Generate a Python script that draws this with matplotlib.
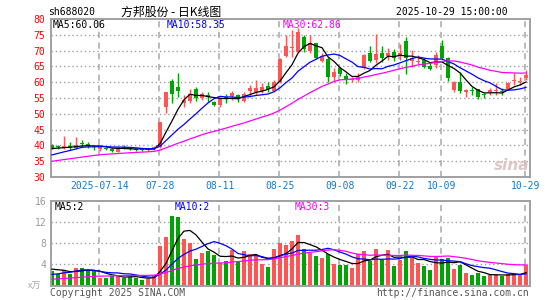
import matplotlib
matplotlib.use('Agg')
import matplotlib.pyplot as plt
import numpy as np
import pandas as pd

# ---------------- data ----------------
dates = ['2025-07-02','2025-07-03','2025-07-04','2025-07-07','2025-07-08','2025-07-09','2025-07-10','2025-07-11',
         '2025-07-14','2025-07-15','2025-07-16','2025-07-17','2025-07-18','2025-07-21','2025-07-22','2025-07-23',
         '2025-07-24','2025-07-25','2025-07-28','2025-07-29','2025-07-30','2025-07-31','2025-08-01','2025-08-04',
         '2025-08-05','2025-08-06','2025-08-07','2025-08-08','2025-08-11','2025-08-12','2025-08-13','2025-08-14',
         '2025-08-15','2025-08-18','2025-08-19','2025-08-20','2025-08-21','2025-08-22','2025-08-25','2025-08-26',
         '2025-08-27','2025-08-28','2025-08-29','2025-09-01','2025-09-02','2025-09-03','2025-09-04','2025-09-05',
         '2025-09-08','2025-09-09','2025-09-10','2025-09-11','2025-09-12','2025-09-15','2025-09-16','2025-09-17',
         '2025-09-18','2025-09-19','2025-09-22','2025-09-23','2025-09-24','2025-09-25','2025-09-26','2025-09-29',
         '2025-09-30','2025-10-09','2025-10-10','2025-10-13','2025-10-14','2025-10-15','2025-10-16','2025-10-17',
         '2025-10-20','2025-10-21','2025-10-22','2025-10-23','2025-10-24','2025-10-27','2025-10-28','2025-10-29']

open_ = [40.2,39.7,39.4,39.9,39.3,40.9,40.6,39.7,38.9,39.2,38.8,38.0,39.6,39.3,38.9,38.8,38.5,38.8,39.5,52.2,
         60.4,58.5,53.4,54.0,58.0,55.0,55.8,53.7,52.9,55.4,55.6,56.0,54.0,57.3,57.0,57.3,58.8,57.3,60.2,68.3,
         70.7,69.4,74.2,70.0,72.3,66.8,67.2,61.5,64.6,62.0,60.6,60.8,64.5,69.1,67.0,69.1,68.3,69.4,68.3,73.1,
         66.6,66.4,67.0,65.1,65.3,71.4,67.7,57.5,60.1,57.0,57.5,57.7,56.2,56.8,57.2,57.2,57.7,60.3,60.1,61.2]
high = [40.6,40.2,42.9,41.0,42.8,41.7,41.0,40.0,39.8,39.5,39.1,39.5,40.2,39.6,39.2,39.0,39.1,39.8,47.4,57.0,
        61.0,62.9,56.0,58.0,58.4,56.8,57.0,54.2,55.4,56.4,57.3,56.3,57.0,59.1,60.7,59.6,60.0,60.7,67.5,75.0,
        76.5,77.0,75.0,75.0,72.5,69.1,68.1,64.6,64.9,62.8,61.8,62.8,69.0,71.5,75.3,71.5,70.7,70.6,72.0,74.4,
        70.3,68.6,67.8,66.0,69.6,73.3,68.0,60.5,63.3,58.0,58.5,58.0,56.7,58.2,59.8,58.2,60.1,63.0,61.8,64.0]
low = [38.8,38.8,39.0,38.7,39.0,39.6,39.3,38.5,38.3,38.5,37.9,37.8,38.8,38.4,38.3,38.1,38.2,38.6,39.2,50.1,
       53.4,55.2,52.3,53.5,53.9,54.3,53.8,52.4,52.3,53.3,54.3,53.6,53.6,55.2,56.0,56.6,56.9,57.0,59.7,67.9,
       67.9,69.4,69.6,69.1,67.2,66.5,60.2,60.2,62.0,59.5,60.0,60.2,64.2,66.5,66.0,66.5,67.0,66.7,67.0,62.6,
       64.7,65.8,64.4,64.0,64.4,67.3,60.5,57.0,56.7,55.4,55.8,54.6,54.9,55.9,55.9,56.0,57.5,59.1,59.1,60.8]
close = [39.3,39.4,39.8,39.5,40.0,40.4,39.8,39.4,39.5,38.9,38.2,39.3,39.3,38.9,38.6,38.5,38.8,39.4,47.4,57.0,
         56.2,57.2,54.4,56.2,55.0,56.3,55.3,52.9,54.8,54.8,56.6,54.7,56.3,58.1,58.1,58.6,57.7,60.2,67.2,71.4,
         71.2,76.0,70.5,72.3,67.5,68.3,61.5,63.3,62.5,60.7,61.0,61.6,68.5,66.8,69.0,67.6,69.2,67.7,69.3,67.5,
         67.5,66.8,64.8,64.3,68.6,67.5,61.3,60.0,57.3,57.5,57.2,55.2,55.9,57.4,57.6,56.9,59.8,60.8,60.5,62.3]
volume = [2.7,2.2,3.0,2.1,3.3,3.3,2.9,2.7,1.35,1.35,1.8,2.0,1.4,1.7,1.5,1.0,1.3,1.9,7.5,9.2,
          13.1,12.9,8.8,8.1,5.0,6.2,6.5,5.8,4.2,4.7,6.7,4.6,6.5,6.0,5.6,4.0,3.5,6.9,8.1,7.7,
          8.5,9.5,6.9,6.1,5.6,5.3,5.9,4.0,3.8,3.8,3.3,5.9,6.5,4.6,6.9,4.8,6.7,3.7,4.8,6.5,
          5.4,4.2,3.7,2.9,5.4,5.0,5.2,3.1,3.8,2.4,1.9,2.3,1.8,1.9,2.2,1.8,2.2,2.2,2.1,3.8]
# the 29 sessions before the first shown day (only feed the moving averages)
prior_close = [31.5,31.8,32.0,31.9,32.2,32.0,32.3,32.4,34.5,35.0,35.3,35.8,35.5,35.2,35.6,35.9,35.4,35.8,
               35.0,34.8,34.6,34.9,35.2,35.0,35.3,38.5,39.2,38.8,39.1]
prior_volume = [0.45,0.5,0.4,0.5,0.45,0.4,0.5,0.45,0.9,1.0,0.8,1.1,0.9,1.0,0.9,1.0,0.95,0.85,1.0,0.95,
                1.0,1.2,1.1,0.9,1.3,2.8,3.5,3.4,3.1]

tick_dates = ['2025-07-14','2025-07-28','2025-08-11','2025-08-25','2025-09-08','2025-09-22','2025-10-09','2025-10-29']
tick_labels = ['2025-07-14','07-28','08-11','08-25','09-08','09-22','10-09','10-29']
price_ticks = [30,35,40,45,50,55,60,65,70,75,80]
vol_ticks = [4,8,12,16]
ma_windows = [5,10,30]
ma_colors = ['#000000','#0000ff','#ff00ff']
price_ma_labels = ['MA5:60.06','MA10:58.35','MA30:62.86']
vol_ma_labels = ['MA5:2','MA10:2','MA30:3']

# ---------------- figure ----------------
W, H = 545, 300
fig = plt.figure(figsize=(W/100, H/100), dpi=100)
fig.patch.set_facecolor('white')

def fx(px): return px / W
def fy(py): return 1 - py / H

L, R = 50.7, 529.5
axp = fig.add_axes([fx(L), fy(177), (R-L)/W, (177-19)/H])
axv = fig.add_axes([fx(L), fy(285.5), (R-L)/W, (285.5-201)/H])

n = len(dates)
x = np.arange(n)
RED, GREEN = '#ff5555', '#00a400'
up = [c >= o for o, c in zip(open_, close)]
cols = [RED if u else GREEN for u in up]

mono = 'DejaVu Sans Mono'
grid_c = '#a0a0a0'

full_close = pd.Series(prior_close + close)
full_vol = pd.Series(prior_volume + volume)
off = len(prior_close)

tick_pos = [dates.index(d) for d in tick_dates]

for ax in (axp, axv):
    ax.set_xlim(-0.22, n - 1 + 0.58)
    for p in tick_pos:
        ax.axvline(p - 0.25, color='#a8a8a8', lw=1.1, ls=(0, (4, 3)), zorder=0)
    for s in ax.spines.values():
        s.set_color('#a0a0a0')
        s.set_linewidth(1.4)
    ax.tick_params(length=0)

# price panel
axp.set_ylim(30, 80)
for v in price_ticks[1:-1]:
    axp.axhline(v, color=grid_c, lw=1.0, ls=(0, (1, 2)), zorder=0)
axp.vlines(x, low, high, colors=cols, lw=1.0, zorder=2)
body_h = [max(abs(c - o), 0.12) for o, c in zip(open_, close)]
body_b = [min(o, c) for o, c in zip(open_, close)]
axp.bar(x, body_h, bottom=body_b, width=0.68, color=cols, linewidth=0, zorder=3)
for w, c in zip(ma_windows, ma_colors):
    ma = full_close.rolling(w).mean().values[off:]
    axp.plot(x, ma, color=c, lw=0.9, zorder=4)
axp.set_yticks(price_ticks)
axp.set_yticklabels([str(v) for v in price_ticks], color='#ff0000', fontsize=7, family=mono)
axp.tick_params(axis='y', pad=4)
axp.set_xticks(tick_pos)
axp.set_xticklabels(tick_labels, color='#1a78c2', fontsize=7, family=mono)
axp.tick_params(axis='x', pad=3)

# volume panel
axv.set_ylim(0, 16)
for v in vol_ticks[:-1]:
    axv.axhline(v, color=grid_c, lw=1.0, ls=(0, (1, 2)), zorder=0)
axv.bar(x, volume, width=0.8, color=cols, linewidth=0, zorder=2)
for w, c in zip(ma_windows, ma_colors):
    ma = full_vol.rolling(w).mean().values[off:]
    axv.plot(x, ma, color=c, lw=0.9, zorder=4)
axv.set_yticks(vol_ticks)
axv.set_yticklabels([str(v) for v in vol_ticks], color='#999999', fontsize=7, family=mono)
axv.tick_params(axis='y', pad=3)
axv.set_xticks([])

# texts
fig.text(fx(48), fy(12), 'sh688020', fontsize=7, family=mono, va='center', ha='left', color='#000000')
fig.text(fx(171), fy(12), '方邦股份 - 日K线图', fontsize=8.6, family=['Noto Sans CJK SC', 'DejaVu Sans'],
         va='center', ha='center', color='#000000')
fig.text(fx(507.5), fy(12), '2025-10-29 15:00:00', fontsize=7, family=mono, va='center', ha='right')
for px, s, c in zip([52.5, 166.5, 282.5], price_ma_labels, ma_colors):
    fig.text(fx(px), fy(24.5), s, fontsize=7, family=mono, color=c, va='center', ha='left')
for px, s, c in zip([54.5, 175, 294.5], vol_ma_labels, ma_colors):
    fig.text(fx(px), fy(207.5), s, fontsize=7, family=mono, color=c, va='center', ha='left')
fig.text(fx(28), fy(286), 'x万', fontsize=6.5, family=['Noto Sans CJK SC', 'DejaVu Sans'],
         color='#aaaaaa', va='center', ha='left')
fig.text(fx(50), fy(293), 'Copyright 2025 SINA.COM', fontsize=7, family=mono, color='#555555',
         va='center', ha='left')
fig.text(fx(529), fy(293), 'http://finance.sina.com.cn', fontsize=7, family=mono, color='#555555',
         va='center', ha='right')
fig.text(fx(512), fy(165), 'sina', fontsize=11, family='DejaVu Sans', style='italic', weight='bold',
         color='#dcc0c0', va='center', ha='center', alpha=0.9)

fig.savefig('out.png', dpi=100, facecolor='white')
